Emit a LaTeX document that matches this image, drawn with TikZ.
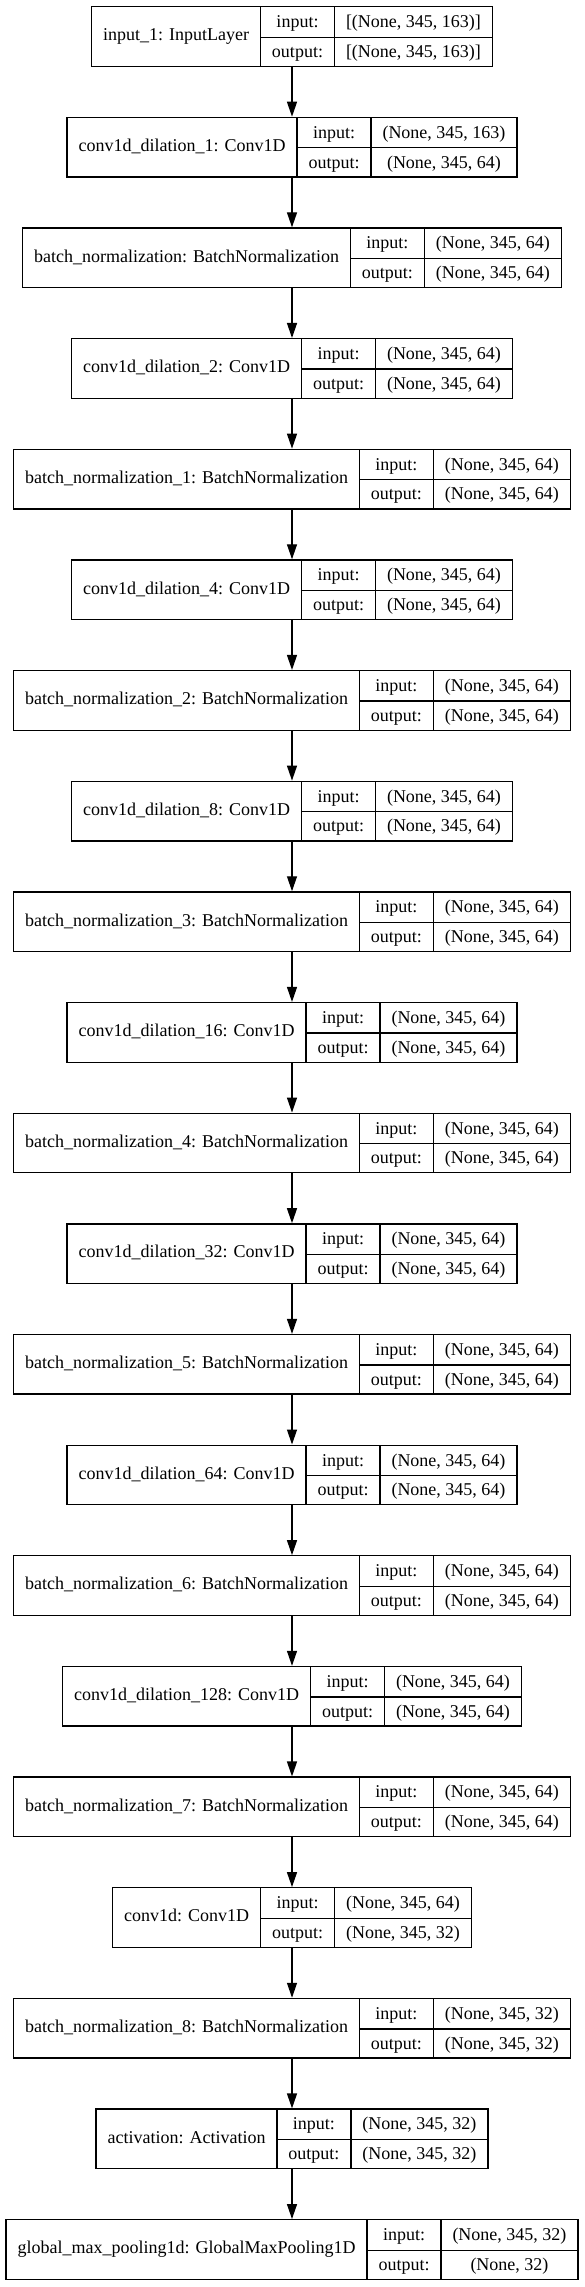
\documentclass[tikz,border=0pt]{standalone}
\usepackage{fontspec}
\setmainfont{Liberation Serif}
\usepackage{multirow}
\usetikzlibrary{arrows.meta}

\setlength{\tabcolsep}{11.5pt}
\setlength{\arrayrulewidth}{1.3pt}
\renewcommand{\arraystretch}{1.38}
\newcommand{\layerbox}[3]{\begin{tabular}{c|c|c}
\multirow{2}{*}{#1} & input: & #2\\ \cline{2-3}
 & output: & #3
\end{tabular}}

\begin{document}
\begin{tikzpicture}[x=1pt, y=-1pt]
\useasboundingbox (0,0) rectangle (584,2287);

\tikzset{every node/.style={draw, line width=1.3pt, inner sep=0pt, font=\fontsize{18}{21.6}\selectfont}}
\node (in1) at (292, 36.5) {\layerbox{input\_1: InputLayer}{[(None, 345, 163)]}{[(None, 345, 163)]}};
\node (cd1) at (292, 147.15) {\layerbox{conv1d\_dilation\_1: Conv1D}{(None, 345, 163)}{(None, 345, 64)}};
\node (bn0) at (292, 257.8) {\layerbox{batch\_normalization: BatchNormalization}{(None, 345, 64)}{(None, 345, 64)}};
\node (cd2) at (292, 368.45) {\layerbox{conv1d\_dilation\_2: Conv1D}{(None, 345, 64)}{(None, 345, 64)}};
\node (bn1) at (292, 479.1) {\layerbox{batch\_normalization\_1: BatchNormalization}{(None, 345, 64)}{(None, 345, 64)}};
\node (cd4) at (292, 589.75) {\layerbox{conv1d\_dilation\_4: Conv1D}{(None, 345, 64)}{(None, 345, 64)}};
\node (bn2) at (292, 700.4) {\layerbox{batch\_normalization\_2: BatchNormalization}{(None, 345, 64)}{(None, 345, 64)}};
\node (cd8) at (292, 811.05) {\layerbox{conv1d\_dilation\_8: Conv1D}{(None, 345, 64)}{(None, 345, 64)}};
\node (bn3) at (292, 921.7) {\layerbox{batch\_normalization\_3: BatchNormalization}{(None, 345, 64)}{(None, 345, 64)}};
\node (cd16) at (292, 1032.35) {\layerbox{conv1d\_dilation\_16: Conv1D}{(None, 345, 64)}{(None, 345, 64)}};
\node (bn4) at (292, 1143) {\layerbox{batch\_normalization\_4: BatchNormalization}{(None, 345, 64)}{(None, 345, 64)}};
\node (cd32) at (292, 1253.65) {\layerbox{conv1d\_dilation\_32: Conv1D}{(None, 345, 64)}{(None, 345, 64)}};
\node (bn5) at (292, 1364.3) {\layerbox{batch\_normalization\_5: BatchNormalization}{(None, 345, 64)}{(None, 345, 64)}};
\node (cd64) at (292, 1474.95) {\layerbox{conv1d\_dilation\_64: Conv1D}{(None, 345, 64)}{(None, 345, 64)}};
\node (bn6) at (292, 1585.6) {\layerbox{batch\_normalization\_6: BatchNormalization}{(None, 345, 64)}{(None, 345, 64)}};
\node (cd128) at (292, 1696.25) {\layerbox{conv1d\_dilation\_128: Conv1D}{(None, 345, 64)}{(None, 345, 64)}};
\node (bn7) at (292, 1806.9) {\layerbox{batch\_normalization\_7: BatchNormalization}{(None, 345, 64)}{(None, 345, 64)}};
\node (conv) at (292, 1917.55) {\layerbox{conv1d: Conv1D}{(None, 345, 64)}{(None, 345, 32)}};
\node (bn8) at (292, 2028.2) {\layerbox{batch\_normalization\_8: BatchNormalization}{(None, 345, 32)}{(None, 345, 32)}};
\node (act) at (292, 2138.85) {\layerbox{activation: Activation}{(None, 345, 32)}{(None, 345, 32)}};
\node (gmp) at (292, 2249.5) {\layerbox{global\_max\_pooling1d: GlobalMaxPooling1D}{(None, 345, 32)}{(None, 32)}};

\tikzset{every node/.style={}};
\tikzset{flow/.style={-{Triangle[length=15pt, width=10pt]}, line width=1.3pt}};
\path (in1) edge [flow] (cd1);
\path (cd1) edge [flow] (bn0);
\path (bn0) edge [flow] (cd2);
\path (cd2) edge [flow] (bn1);
\path (bn1) edge [flow] (cd4);
\path (cd4) edge [flow] (bn2);
\path (bn2) edge [flow] (cd8);
\path (cd8) edge [flow] (bn3);
\path (bn3) edge [flow] (cd16);
\path (cd16) edge [flow] (bn4);
\path (bn4) edge [flow] (cd32);
\path (cd32) edge [flow] (bn5);
\path (bn5) edge [flow] (cd64);
\path (cd64) edge [flow] (bn6);
\path (bn6) edge [flow] (cd128);
\path (cd128) edge [flow] (bn7);
\path (bn7) edge [flow] (conv);
\path (conv) edge [flow] (bn8);
\path (bn8) edge [flow] (act);
\path (act) edge [flow] (gmp);
\end{tikzpicture}
\end{document}
